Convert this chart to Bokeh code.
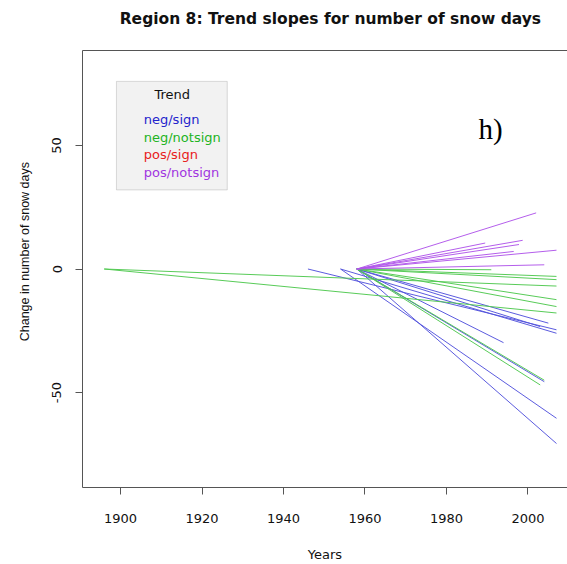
from bokeh.plotting import figure
from bokeh.models import (Range1d, FixedTicker, LinearAxis, BoxAnnotation, Label,
                          PrintfTickFormatter)
from bokeh.embed import file_html
from bokeh.resources import INLINE

# ---- data: trend lines (start year, end year, change at end) ----
categories = ["neg/sign", "neg/notsign", "pos/sign", "pos/notsign"]

neg_sign_start = [1946, 1954, 1958, 1958, 1958, 1958, 1954, 1958]
neg_sign_end = [2007, 2007, 2003, 2005, 1994, 2004, 2007, 2007]
neg_sign_change = [-24.6, -26.0, -23.3, -21.9, -29.8, -45.6, -60.4, -70.6]

neg_notsign_start = [1896, 1896, 1958, 1958, 1958, 1958, 1958, 1958, 1958]
neg_notsign_end = [2007, 2007, 1991, 2007, 2007, 2007, 2007, 2004, 2003]
neg_notsign_change = [-6.9, -17.8, -0.3, -3.0, -4.3, -12.4, -15.2, -45.0, -46.9]

pos_sign_start = []
pos_sign_end = []
pos_sign_change = []

pos_notsign_start = [1958, 1958, 1958, 1958, 1958, 1958, 1958]
pos_notsign_end = [2002, 1989.5, 1998.7, 1997.8, 1996.5, 2007, 2004]
pos_notsign_change = [22.7, 10.5, 11.6, 9.9, 7.1, 7.6, 1.7]

x_ticks = [1900, 1920, 1940, 1960, 1980, 2000]
y_ticks = [-50, 0, 50]

line_colors = ["#5252dc", "#4fc84f", "#e83030", "#b055ea"]
text_colors = ["#2424cc", "#22b422", "#e82020", "#a035e0"]

AX = "#555555"
FONT = "DejaVu Sans"
NB = "\u00a0"

p = figure(width=567, height=564, output_backend="svg", toolbar_location=None,
           x_range=Range1d(1890.67, 2009.7), y_range=Range1d(-88.4, 88.4),
           min_border_left=82, min_border_right=0, min_border_top=50,
           min_border_bottom=77)
p.outline_line_color = None
p.grid.visible = False
p.background_fill_color = "white"

series = [
    (neg_sign_start, neg_sign_end, neg_sign_change),
    (neg_notsign_start, neg_notsign_end, neg_notsign_change),
    (pos_sign_start, pos_sign_end, pos_sign_change),
    (pos_notsign_start, pos_notsign_end, pos_notsign_change),
]
for (st, en, ch), col in zip(series, line_colors):
    if not st:
        continue
    xs = [[s, e] for s, e in zip(st, en)]
    ys = [[0, c] for c in ch]
    p.multi_line(xs, ys, line_color=col, line_width=1, line_alpha=0.95)

# axes
for ax in (p.xaxis[0], p.yaxis[0]):
    ax.axis_line_color = AX
    ax.major_tick_line_color = AX
    ax.minor_tick_line_color = None
    ax.major_tick_out = 7
    ax.major_tick_in = 0
    ax.major_label_text_font = FONT
    ax.major_label_text_font_size = "13px"
    ax.major_label_text_color = "#111111"
    ax.axis_label_text_font_style = "normal"
    ax.axis_label_text_color = "#111111"

p.xaxis.ticker = FixedTicker(ticks=x_ticks)
p.xaxis.major_label_standoff = 19
p.xaxis.axis_label = "Years"
p.xaxis.axis_label_text_font = FONT
p.xaxis.axis_label_text_font_size = "13px"
p.xaxis.axis_label_standoff = 21

p.yaxis.ticker = FixedTicker(ticks=y_ticks)
p.yaxis.formatter = PrintfTickFormatter(format="%d")
p.yaxis.major_label_orientation = "vertical"
p.yaxis.major_label_standoff = 14
# leading no-break spaces lift the label slightly above the frame centre
p.yaxis.axis_label = NB * 10 + "Change in number of snow days"
p.yaxis.axis_label_text_font = "Liberation Sans"
p.yaxis.axis_label_text_font_size = "12.5px"
p.yaxis.axis_label_standoff = 18

# top border line carrying the chart title
top = LinearAxis(ticker=FixedTicker(ticks=[]), axis_line_color=AX,
                 major_tick_line_color=None, minor_tick_line_color=None,
                 major_label_text_font_size="0px",
                 axis_label=NB * 2 + "Region 8: Trend slopes for number of snow days",
                 axis_label_text_font=FONT, axis_label_text_font_size="15.5px",
                 axis_label_text_font_style="bold", axis_label_text_color="#111111",
                 axis_label_standoff=23)
p.add_layout(top, "above")

# legend box
p.add_layout(BoxAnnotation(left=1899.0, right=1926.2, top=75.9, bottom=32.0,
                           fill_color="#f2f2f2", fill_alpha=1.0,
                           line_color="#8a8a8a", line_width=1))
p.add_layout(Label(x=1912.7, y=70.5, text="Trend", text_font=FONT,
                   text_font_size="13px", text_color="#111111",
                   text_align="center", text_baseline="middle"))
legend_y = [60.4, 53.3, 46.2, 39.2]
for lab, col, yy in zip(categories, text_colors, legend_y):
    p.add_layout(Label(x=1905.7, y=yy, text=lab, text_font=FONT,
                       text_font_size="13px", text_color=col,
                       text_align="left", text_baseline="middle"))

p.add_layout(Label(x=1990.8, y=56.8, text="h)", text_font="Liberation Serif",
                   text_font_size="29px", text_color="#000000",
                   text_align="center", text_baseline="middle"))

open("out.html", "w").write(file_html(p, INLINE))
